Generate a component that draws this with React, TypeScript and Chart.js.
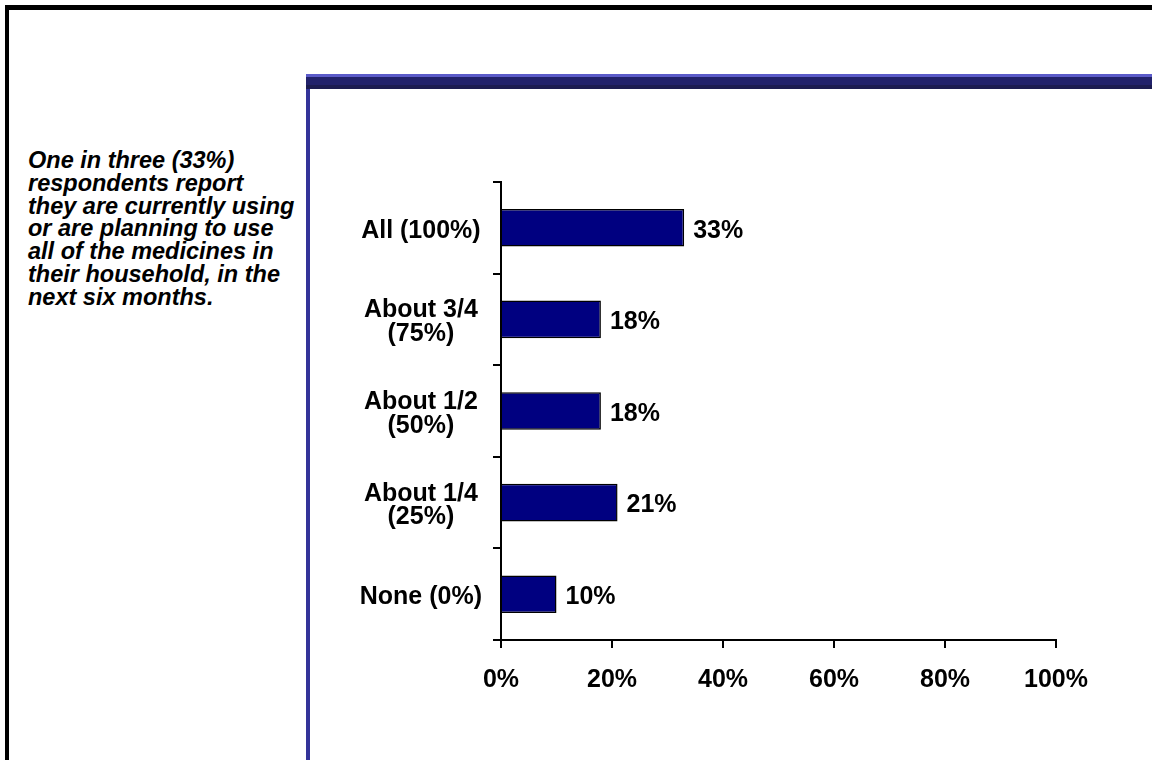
import React, { useEffect, useRef } from "react";
import { Chart, registerables } from "chart.js";

Chart.register(...registerables);

const categories: string[][] = [
  ["All (100%)"],
  ["About 3/4", "(75%)"],
  ["About 1/2", "(50%)"],
  ["About 1/4", "(25%)"],
  ["None (0%)"],
];
const values: number[] = [33, 18, 18, 21, 10];
const xTicks: number[] = [0, 20, 40, 60, 80, 100];
const noteLines: string[] = [
  "One in three (33%)",
  "respondents report",
  "they are currently using",
  "or are planning to use",
  "all of the medicines in",
  "their household, in the",
  "next six months.",
];

const FONT = '"Liberation Sans", Arial, Helvetica, sans-serif';
const FS = 25;

const valueLabelPlugin = {
  id: "valueLabels",
  afterDatasetsDraw(chart: any) {
    const ctx = chart.ctx;
    const meta = chart.getDatasetMeta(0);
    ctx.save();
    ctx.font = `bold ${FS}px ${FONT}`;
    ctx.fillStyle = "#000000";
    ctx.textAlign = "left";
    ctx.textBaseline = "middle";
    meta.data.forEach((bar: any, i: number) => {
      ctx.fillText(`${values[i]}%`, bar.x + 9, bar.y + 3);
    });
    ctx.restore();
  },
};

export default function App() {
  const canvasRef = useRef<HTMLCanvasElement | null>(null);

  useEffect(() => {
    if (!canvasRef.current) return;
    const chart = new Chart(canvasRef.current, {
      type: "bar",
      data: {
        labels: categories,
        datasets: [
          {
            data: values,
            backgroundColor: "#000080",
            borderColor: "#000000",
            borderWidth: 1.5,
            barPercentage: 0.41,
            categoryPercentage: 1,
          },
        ],
      },
      options: {
        indexAxis: "y",
        animation: false,
        responsive: true,
        maintainAspectRatio: false,
        devicePixelRatio: 1,
        layout: { padding: { left: 351, top: 182, right: 96, bottom: 60 } },
        plugins: {
          legend: { display: false },
          tooltip: { enabled: false },
          title: { display: false },
        },
        scales: {
          x: {
            min: 0,
            max: 100,
            afterBuildTicks: (scale: any) => {
              scale.ticks = xTicks.map((v) => ({ value: v }));
            },
            afterFit: (scale: any) => {
              scale.height = 60;
            },
            grid: {
              drawOnChartArea: false,
              drawTicks: true,
              tickLength: 8,
              color: "#000000",
              lineWidth: 2,
            },
            border: { display: true, color: "#000000", width: 2 },
            ticks: {
              color: "#000000",
              font: { family: FONT, size: FS, weight: "bold" },
              padding: 17,
              maxRotation: 0,
              callback: (v: any) => `${v}%`,
            },
          },
          y: {
            afterFit: (scale: any) => {
              scale.width = 150;
              if (!scale.__shifted) {
                scale.__shifted = true;
                const orig = scale.drawLabels;
                scale.drawLabels = function (area: any) {
                  const c = this.ctx;
                  c.save();
                  c.translate(0, 3);
                  orig.call(this, area);
                  c.restore();
                };
              }
            },
            grid: {
              drawOnChartArea: false,
              drawTicks: true,
              tickLength: 8,
              color: "#000000",
              lineWidth: 2,
              offset: true,
            },
            border: { display: true, color: "#000000", width: 2 },
            ticks: {
              color: "#000000",
              font: { family: FONT, size: FS, weight: "bold", lineHeight: 0.95 },
              crossAlign: "center",
              padding: 11,
            },
          },
        },
      },
      plugins: [valueLabelPlugin],
    });
    return () => chart.destroy();
  }, []);

  return (
    <div
      style={{
        position: "absolute",
        left: 0,
        top: 0,
        width: 1152,
        height: 760,
        overflow: "hidden",
        background: "#ffffff",
      }}
    >
      {/* outer black frame */}
      <div
        style={{
          position: "absolute",
          left: 5,
          top: 5,
          width: 1300,
          height: 900,
          borderLeft: "4px solid #000000",
          borderTop: "5px solid #000000",
        }}
      />
      {/* blue header bar */}
      <div style={{ position: "absolute", left: 306, top: 74, width: 900, height: 3, background: "#5b5bc9" }} />
      <div style={{ position: "absolute", left: 306, top: 77, width: 900, height: 8, background: "#22226b" }} />
      <div style={{ position: "absolute", left: 306, top: 85, width: 900, height: 4, background: "#1c1c50" }} />
      {/* blue left bar */}
      <div style={{ position: "absolute", left: 306, top: 89, width: 4, height: 700, background: "#333399" }} />
      {/* note text */}
      <div
        style={{
          position: "absolute",
          left: 28,
          top: 149,
          fontFamily: FONT,
          fontWeight: "bold",
          fontStyle: "italic",
          fontSize: 23.5,
          lineHeight: "22.8px",
          color: "#000000",
          whiteSpace: "nowrap",
        }}
      >
        {noteLines.map((l, i) => (
          <div key={i}>{l}</div>
        ))}
      </div>
      <div style={{ position: "absolute", left: 0, top: 0, width: 1152, height: 760 }}>
        <canvas ref={canvasRef} />
      </div>
    </div>
  );
}
